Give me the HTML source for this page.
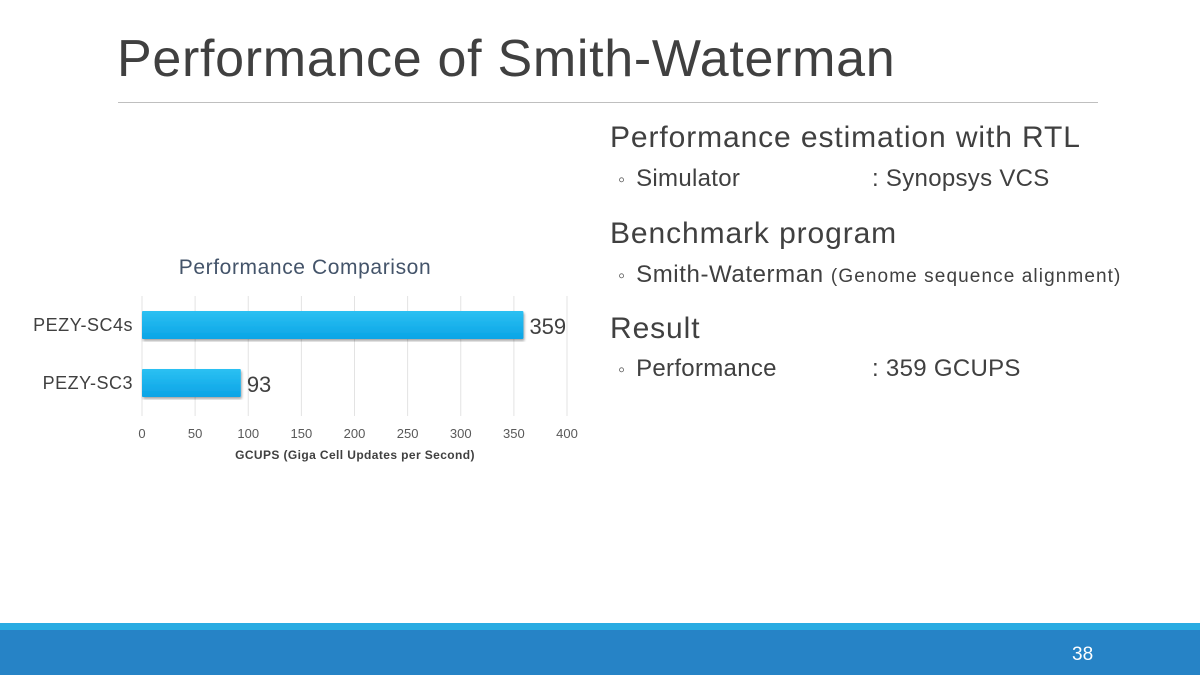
<!DOCTYPE html>
<html><head><meta charset="utf-8"><style>
body{margin:0;width:1200px;height:675px;overflow:hidden;background:#fff;font-family:"Liberation Sans",sans-serif;position:relative}
.t{position:absolute;white-space:nowrap;color:#404040}
.b{font-size:20px;color:#595959;margin-right:11px;letter-spacing:0}
</style></head><body>
<div class="t" style="left:117px;top:29px;font-size:52px;letter-spacing:0.7px">Performance of Smith-Waterman</div>
<div style="position:absolute;left:118px;top:102px;width:980px;height:1px;background:#bfbfbf"></div>
<div class="t" style="left:610px;top:121px;font-size:30px;letter-spacing:0.9px">Performance estimation with RTL</div>
<div class="t" style="left:618px;top:165px;font-size:24px;letter-spacing:0.3px"><span class="b">◦</span>Simulator<span style="position:absolute;left:254px">: Synopsys VCS</span></div>
<div class="t" style="left:610px;top:217px;font-size:30px;letter-spacing:0.9px">Benchmark program</div>
<div class="t" style="left:618px;top:261px;font-size:24px;letter-spacing:0.6px"><span class="b">◦</span>Smith-Waterman <span style="font-size:19px;letter-spacing:1.1px">(Genome sequence alignment)</span></div>
<div class="t" style="left:610px;top:312px;font-size:30px;letter-spacing:0.9px">Result</div>
<div class="t" style="left:618px;top:355px;font-size:24px;letter-spacing:0.3px"><span class="b">◦</span>Performance<span style="position:absolute;left:254px">: 359 GCUPS</span></div>

<svg id="chart" width="600" height="480" style="position:absolute;left:0;top:0">
<defs><linearGradient id="g" x1="0" y1="0" x2="0" y2="1"><stop offset="0" stop-color="#2cc0f2"/><stop offset="1" stop-color="#0aa4e6"/></linearGradient>
<filter id="sh"><feDropShadow dx="1" dy="2" stdDeviation="1.2" flood-opacity="0.35"/></filter></defs>
<text x="305" y="274" text-anchor="middle" font-size="21" letter-spacing="0.6" fill="#44546a">Performance Comparison</text>
<g id="grid"></g><g id="bars"></g>
<text x="355" y="459" text-anchor="middle" font-size="12" letter-spacing="0.4" font-weight="bold" fill="#404040">GCUPS (Giga Cell Updates per Second)</text>
</svg>

<div style="position:absolute;left:0;top:623px;width:1200px;height:7px;background:#29abe2"></div>
<div style="position:absolute;left:0;top:630px;width:1200px;height:45px;background:#2683c6"></div>
<div class="t" style="left:1072px;top:644px;font-size:19px;color:#fff">38</div>
<script>
const categories=["PEZY-SC4s","PEZY-SC3"];
const values=[359,93];
const ticks=[0,50,100,150,200,250,300,350,400];
const ns="http://www.w3.org/2000/svg";
const x0=142,x1=567,xmax=400;
const xs=v=>x0+(v/xmax)*(x1-x0);
const bandTop=297,band=58;
const grid=document.getElementById('grid'),bars=document.getElementById('bars');
function mk(t,a){const e=document.createElementNS(ns,t);for(const k in a)e.setAttribute(k,a[k]);return e;}
ticks.forEach(t=>{
 const l=mk('line',{x1:xs(t),x2:xs(t),y1:296,y2:416,stroke:'#e3e3e3','stroke-width':1});
 
 
 grid.appendChild(l);
 const tx=mk('text',{x:xs(t),y:438,'text-anchor':'middle','font-size':13,fill:'#595959'});
 
 
 tx.textContent=t;grid.appendChild(tx);
});
categories.forEach((c,i)=>{
 const yc=bandTop+band*i+band/2-1;
 const r=mk('rect',{x:x0,y:yc-14,width:xs(values[i])-x0,height:28,fill:'url(#g)',filter:'url(#sh)',rx:1});
 
 
 bars.appendChild(r);
 const lb=mk('text',{x:133,y:yc+6,'text-anchor':'end','font-size':18,'letter-spacing':0.5,fill:'#404040'});
 
 
 lb.textContent=c;bars.appendChild(lb);
 const v=mk('text',{x:xs(values[i])+6,y:yc+9,'font-size':22,fill:'#404040'});
 
 
 v.textContent=values[i];bars.appendChild(v);
});
</script>
</body></html>
